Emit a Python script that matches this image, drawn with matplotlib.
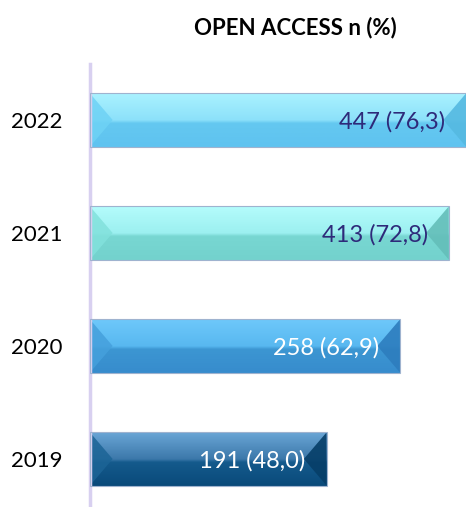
import numpy as np
import matplotlib
matplotlib.use('Agg')
import matplotlib.pyplot as plt
from matplotlib.colors import to_rgb
from matplotlib.patches import Polygon

plt.rcParams['font.family'] = ['Lato', 'DejaVu Sans']

# data
years = ['2019', '2020', '2021', '2022']
counts = [191, 258, 413, 447]
percents = [48.0, 62.9, 72.8, 76.3]

# bar shading: top, upper-mid, lower-mid, bottom, left bevel, right bevel
shades = [
    ['#6aa6d6', '#3c78aa', '#145a8c', '#0a4a7a', '#1c6496', '#063e68'],
    ['#6ec8fa', '#58b8f0', '#3c96d2', '#378ccd', '#45a0dc', '#2d7dbe'],
    ['#b4fcfc', '#9cf0f0', '#78d7d2', '#73d2cd', '#82e1dc', '#64beb9'],
    ['#aaf2ff', '#8ce1fa', '#64c8f0', '#5fc3f0', '#6ed2f5', '#55b9e1'],
]
label_colors = ['white', 'white', '#2e2a7a', '#2e2a7a']

fig = plt.figure(figsize=(4.66, 5.07), dpi=100)
ax = fig.add_axes([90 / 466, 0, 376 / 466, 443.5 / 507])

y = np.arange(len(years))
h = 0.47
bars = ax.barh(y, percents, height=h, color='none', edgecolor='#9fb3cf', linewidth=0.8, zorder=3)

bev = 4.6  # bevel width in data units
for i, b in enumerate(bars):
    top, um, lm, bot, lc, rc = [np.array(to_rgb(c)) for c in shades[i]]
    n = 100
    t = np.linspace(0, 1, n)
    grad = np.zeros((n, 1, 3))
    for k, tt in enumerate(t):
        if tt < 0.5:
            grad[k, 0] = top + (um - top) * (tt / 0.5)
        elif tt < 0.56:
            grad[k, 0] = um + (lm - um) * ((tt - 0.5) / 0.06)
        else:
            grad[k, 0] = lm + (bot - lm) * ((tt - 0.56) / 0.44)
    x0, x1 = 0, percents[i]
    y0, y1 = y[i] - h / 2, y[i] + h / 2
    im = ax.imshow(grad, extent=(x0, x1, y0, y1), origin='upper', aspect='auto', zorder=2)
    im.set_clip_path(b)
    ax.add_patch(Polygon([(x0, y0), (x0 + bev, y[i]), (x0, y1)], closed=True,
                         facecolor=lc, edgecolor='none', alpha=0.85, zorder=2.5))
    ax.add_patch(Polygon([(x1, y0), (x1 - bev, y[i]), (x1, y1)], closed=True,
                         facecolor=rc, edgecolor='none', alpha=0.9, zorder=2.5))
    ax.annotate('%d (%s)' % (counts[i], ('%.1f' % percents[i]).replace('.', ',')),
                xy=(x1, y[i]), xytext=(-15, -1), textcoords='offset points',
                ha='right', va='center', fontsize=17, color=label_colors[i], zorder=4)

ax.set_xlim(0, 76.3)
ax.set_ylim(-0.425, 3.5)
ax.set_yticks(y)
ax.set_yticklabels(years, fontsize=16)
ax.tick_params(axis='y', length=0, pad=20)
ax.set_xticks([])
for s in ['top', 'right', 'bottom']:
    ax.spines[s].set_visible(False)
ax.spines['left'].set_color('#d8d0f0')
ax.spines['left'].set_linewidth(2.5)

fig.text(295 / 466, 1 - 28 / 507, 'OPEN ACCESS n (%)', ha='center', va='center',
         fontsize=16, fontweight='bold')

fig.savefig('out.png', dpi=100)
